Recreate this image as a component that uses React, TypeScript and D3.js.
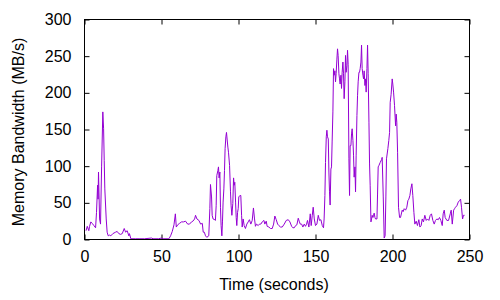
import React, { useEffect, useRef } from 'react';
import * as d3 from 'd3';

// [time (s), bandwidth (MB/s)]
const samples: [number, number][] = [
  [1, 12], [1.8, 18], [2.8, 12], [3.3, 18], [4.1, 24], [5, 22], [6.1, 19], [7.2, 16], [7.8, 37],
  [8.5, 74], [8.8, 55], [9.1, 92], [9.8, 28], [10.4, 21], [11.1, 99], [11.9, 174], [12.4, 151],
  [12.8, 108], [13.2, 69], [14.1, 28], [14.7, 10], [15.4, 5], [16.3, 6], [17.1, 5], [18.4, 8],
  [20.2, 10], [21.2, 11], [22.3, 8], [23.4, 7], [24.5, 8], [25.8, 15], [26.7, 10], [27.7, 12],
  [28.8, 5], [29.2, 8], [30.1, 1], [33, 1], [36, 1], [39, 1], [43.5, 2], [44.5, 1], [48, 1],
  [50, 2], [51, 1], [54.8, 1],
  [55.9, 5], [57, 11], [58.1, 20], [59, 35], [59.6, 17], [60.5, 20], [61.7, 22], [63, 24],
  [64.3, 24], [65.6, 25], [67, 21], [68.2, 21], [69.5, 24], [70.4, 25], [71.5, 28], [72.1, 33],
  [73, 28], [74.3, 26], [75.4, 21], [76.5, 22], [77.1, 10], [77.8, 10], [78.6, 5], [79.4, 3],
  [80.7, 5],
  [81.4, 42], [81.8, 75], [82.5, 58], [82.9, 33], [83.5, 28], [84.6, 27], [85, 26], [85.5, 46],
  [85.9, 87], [86.6, 94], [87, 99], [87.4, 84], [87.9, 92], [88.3, 44], [88.7, 19], [89.2, 5],
  [89.6, 24], [90, 51], [90.5, 69], [90.9, 94], [91.3, 124], [91.8, 140], [92.2, 146], [92.6, 137],
  [93.1, 126], [93.5, 119], [94.2, 101], [94.8, 65], [95.2, 46], [95.7, 33], [96.3, 49], [96.8, 84],
  [97.2, 74], [97.6, 78], [98.1, 51], [98.5, 30], [98.9, 19], [99.4, 37], [99.8, 42], [100.2, 58],
  [100.9, 60], [101.5, 60], [102, 33], [102.4, 17], [103, 28], [103.7, 19], [104.5, 15], [105.4, 21],
  [106.3, 24], [107.1, 27], [108, 21], [108.9, 26], [109.7, 43], [110.4, 28], [111, 18], [111.7, 21],
  [112.8, 19], [113.6, 21], [114.5, 21], [115.4, 24],
  [116.5, 26], [117.1, 21], [118, 25], [118.6, 18], [119.7, 17], [120.8, 15], [121.9, 15], [122.8, 21],
  [123.6, 32], [124.5, 27], [125.4, 21], [126.2, 19], [127.3, 17], [128.4, 17], [129.7, 21], [131, 26],
  [132.3, 27], [133.4, 24], [134.5, 18], [135.3, 16], [136.2, 16], [137.1, 19], [137.9, 20], [138.8, 29],
  [139.4, 25], [140.1, 21], [141, 21], [141.8, 17], [142.7, 21], [143.5, 18], [144.2, 21], [144.8, 26],
  [145.7, 17], [146.6, 35], [147.2, 19], [147.9, 33], [148.5, 44], [149.2, 28], [150, 19], [150.9, 21],
  [151.8, 33], [152.6, 26], [153.5, 27], [154.4, 19], [155.2, 16],
  [155.6, 28], [156.1, 60], [156.5, 105], [157, 140], [157.4, 149], [157.8, 140], [158.3, 137],
  [158.7, 92], [159.1, 65], [159.5, 47], [160, 96], [160.4, 99], [160.8, 133], [161.3, 174],
  [161.7, 233], [162.1, 224], [162.6, 230], [163, 215], [163.4, 226], [163.9, 246], [164.3, 260],
  [164.7, 251], [165.2, 226], [165.6, 219], [166, 212], [166.5, 224], [166.9, 206], [167.3, 228],
  [167.8, 242], [168.2, 226], [168.6, 192], [169.1, 215], [169.5, 251], [169.9, 228], [170.4, 237],
  [170.8, 258], [171.2, 239], [171.7, 110], [172.1, 60], [172.5, 128], [173, 128], [173.4, 144],
  [173.8, 151], [174.3, 135], [174.7, 115], [175.1, 85], [175.6, 99], [176, 65], [176.4, 115],
  [176.9, 169], [177.3, 196], [177.7, 215], [178.2, 228], [178.6, 228], [179, 233], [179.5, 242],
  [179.9, 265], [180.3, 233], [180.8, 224], [181.2, 219], [181.6, 230], [182.1, 210], [182.5, 219],
  [182.9, 201], [183.4, 233], [183.8, 265], [184.2, 226], [184.7, 160], [185.1, 103], [185.5, 74],
  [186, 24], [186.4, 28], [186.8, 33], [187.3, 30], [187.7, 33], [188.1, 36], [188.6, 30], [189, 28],
  [189.9, 28], [190.3, 62], [190.7, 99], [191.2, 101], [192, 105], [192.9, 109], [193.3, 112],
  [194, 58], [194.6, 2], [195.2, 5], [195.7, 58], [196.1, 110], [197, 124], [197.6, 135], [198.1, 146],
  [198.5, 187], [199.1, 198], [199.8, 219], [200.2, 212], [200.7, 201], [201.3, 183], [202, 155],
  [202.4, 171], [202.8, 160], [203.3, 119], [203.9, 44], [204.6, 30], [205.2, 30], [206.3, 40],
  [206.9, 38], [207.6, 42], [208.5, 40], [209.3, 44], [210, 53], [210.6, 55], [211.3, 60], [211.9, 69],
  [212.6, 76], [213.2, 60], [213.9, 37], [214.5, 21], [215.4, 25], [216.2, 19], [217.1, 27], [217.8, 17],
  [218.6, 19], [219.3, 28], [220.1, 24], [221, 33], [221.9, 26], [222.7, 28], [223.6, 26], [224.5, 33],
  [225.3, 35], [226.2, 26], [227.1, 21], [227.9, 26], [228.8, 28], [229.7, 27], [230.5, 30], [231.4, 26],
  [232.3, 19], [232.9, 35], [233.6, 40], [234.2, 30], [235.3, 26], [236.4, 26], [237.5, 35], [238.1, 40],
  [238.8, 21], [239.7, 40], [240.3, 42], [240.9, 44], [241.8, 46], [242.7, 51], [243.5, 53], [244.2, 55],
  [244.8, 44], [245.5, 28], [246.1, 33], [246.8, 33],
];

const xTicks = [0, 50, 100, 150, 200, 250];
const yTicks = [0, 50, 100, 150, 200, 250, 300];
const xLabel = 'Time (seconds)';
const yLabel = 'Memory Bandwidth (MB/s)';

const FONT = '"Liberation Sans", Arial, sans-serif';

export default function App() {
  const svgRef = useRef<SVGSVGElement>(null);

  useEffect(() => {
    if (!svgRef.current) return;
    const svg = d3.select(svgRef.current);
    svg.selectAll('*').remove();

    const left = 84.5, right = 469.5, top = 19.5, bottom = 239.5;

    const x = d3.scaleLinear().domain([0, 250]).range([left, right]);
    const y = d3.scaleLinear().domain([0, 300]).range([bottom, top]);

    const styleAxis = (g: any) => {
      g.select('.domain').remove();
      g.selectAll('line').attr('stroke', '#000');
      g.selectAll('text').attr('fill', '#000');
      g.attr('font-family', FONT).attr('font-size', 16);
    };

    // inward ticks on all four sides, labels only bottom/left
    svg.append('g')
      .attr('transform', `translate(0,${bottom})`)
      .call(d3.axisBottom(x).tickValues(xTicks).tickSizeInner(-5).tickSizeOuter(0).tickPadding(11))
      .call(styleAxis);
    svg.append('g')
      .attr('transform', `translate(0,${top})`)
      .call(d3.axisTop(x).tickValues(xTicks).tickSizeInner(-5).tickSizeOuter(0).tickFormat(() => ''))
      .call(styleAxis);
    svg.append('g')
      .attr('transform', `translate(${left},0)`)
      .call(d3.axisLeft(y).tickValues(yTicks).tickSizeInner(-5).tickSizeOuter(0).tickPadding(13))
      .call(styleAxis);
    svg.append('g')
      .attr('transform', `translate(${right},0)`)
      .call(d3.axisRight(y).tickValues(yTicks).tickSizeInner(-5).tickSizeOuter(0).tickFormat(() => ''))
      .call(styleAxis);

    const line = d3.line<[number, number]>()
      .x(d => x(d[0]))
      .y(d => y(d[1]));

    svg.append('path')
      .datum(samples)
      .attr('fill', 'none')
      .attr('stroke', '#9400d3')
      .attr('stroke-width', 1)
      .attr('d', line);

    // frame
    svg.append('rect')
      .attr('x', left).attr('y', top)
      .attr('width', right - left).attr('height', bottom - top)
      .attr('fill', 'none').attr('stroke', '#000').attr('stroke-width', 1);

    svg.append('text')
      .attr('x', 274).attr('y', 290)
      .attr('text-anchor', 'middle')
      .attr('font-family', FONT).attr('font-size', 16)
      .text(xLabel);

    svg.append('text')
      .attr('transform', 'translate(24,132) rotate(-90)')
      .attr('text-anchor', 'middle')
      .attr('font-family', FONT).attr('font-size', 16)
      .text(yLabel);
  }, []);

  return (
    <svg
      ref={svgRef}
      width={500}
      height={300}
      style={{ position: 'absolute', left: 0, top: 0, background: '#fff' }}
    />
  );
}
